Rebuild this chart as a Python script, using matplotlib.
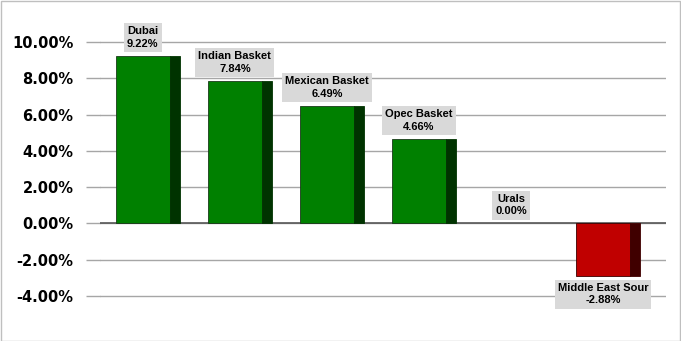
import numpy as np
import matplotlib.pyplot as plt
from matplotlib.patches import Rectangle

# crude basket returns
names = ['Dubai', 'Indian Basket', 'Mexican Basket', 'Opec Basket', 'Urals', 'Middle East Sour']
values = [9.22, 7.84, 6.49, 4.66, 0.00, -2.88]
yticks = [-4, -2, 0, 2, 4, 6, 8, 10]

W, H = 681, 341
fig = plt.figure(figsize=(W / 100, H / 100), dpi=100)
# y=10 at px 42, y=-4 at px 296 -> 18.14 px per unit, pad half a unit each side
ppu = 254 / 14.0
top_px = 42 - 0.5 * ppu
bot_px = 296 + 0.5 * ppu
ax = fig.add_axes([100 / W, (H - bot_px) / H, 566 / W, (bot_px - top_px) / H])
ax.set_ylim(-4.5, 10.5)
ax.set_xlim(-0.52, 5.63)

face_w = 0.587
side_w = 0.109
x = np.arange(len(values))
for i, v in enumerate(values):
    if v == 0:
        continue
    if v > 0:
        fc, sc, ec = '#008000', '#003300', '#1a3a1a'
    else:
        fc, sc, ec = '#C00000', '#400000', '#3a0000'
    left = x[i] - (face_w + side_w) / 2
    ax.bar(left, v, width=face_w, align='edge', color=fc, edgecolor=ec, linewidth=0.6, zorder=3)
    ax.bar(left + face_w, v, width=side_w, align='edge', color=sc, edgecolor=sc, linewidth=0.6, zorder=3)

# labels in grey boxes, centred over the front face
for i, v in enumerate(values):
    cx = x[i] - side_w / 2
    txt = '%s\n%.2f%%' % (names[i], v)
    if v >= 0:
        off, va = 5, 'bottom'
    else:
        off, va = -5, 'top'
    ax.annotate(txt, (cx, v), xytext=(0, off), textcoords='offset points', ha='center', va=va,
                fontsize=8, fontweight='bold', family='Liberation Sans', linespacing=1.35,
                bbox=dict(boxstyle='square,pad=0.28', fc='#D9D9D9', ec='none'), zorder=4,
                annotation_clip=False)

ax.set_yticks(yticks)
ax.set_yticklabels(['%.2f%%' % t for t in yticks], fontsize=10.5, fontweight='bold', family='DejaVu Sans')
ax.tick_params(axis='y', length=10, color='#A6A6A6', width=1, pad=9)
ax.yaxis.get_major_ticks()[2].tick1line.set_color('#595959')
ax.set_xticks([])
ax.grid(axis='y', color='#A6A6A6', linewidth=1, zorder=0)
ax.axhline(0, color='#595959', linewidth=1.2, zorder=2)
for s in ax.spines.values():
    s.set_visible(False)

fig.patches.append(Rectangle((0.5 / W, 0.5 / H), 1 - 1.5 / W, 1 - 1.5 / H, transform=fig.transFigure,
                             fill=False, ec='#BFBFBF', lw=1))

fig.savefig('out.png', dpi=100)
